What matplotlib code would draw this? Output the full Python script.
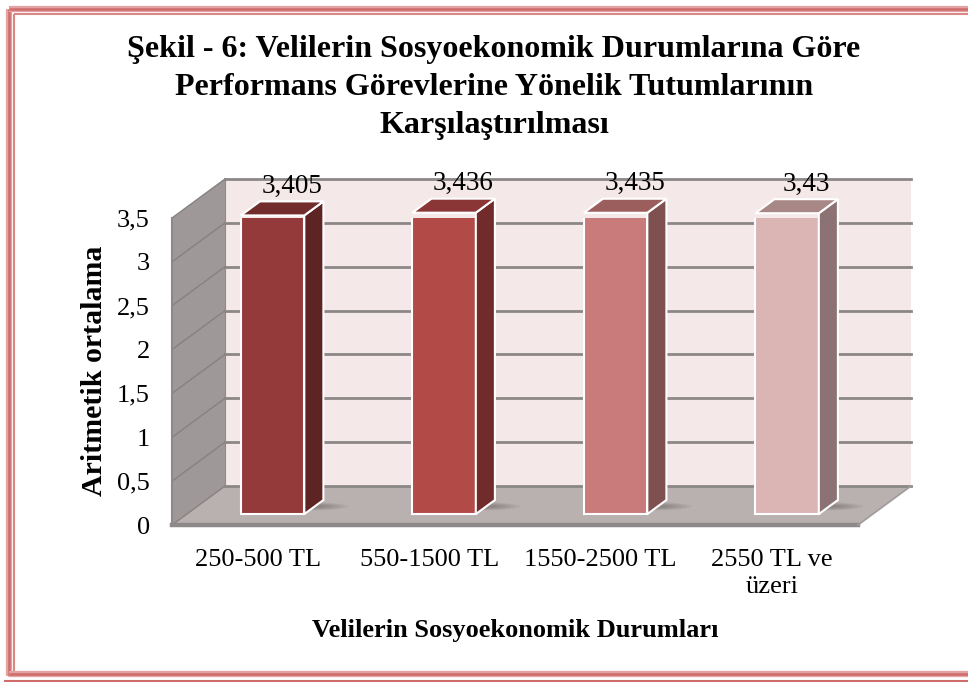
import matplotlib
matplotlib.use('Agg')
import matplotlib.pyplot as plt
from matplotlib.patches import Polygon, Ellipse
from matplotlib.lines import Line2D

# ---- data ----
categories = ['250-500 TL', '550-1500 TL', '1550-2500 TL', '2550 TL ve\nüzeri']
values = [3.405, 3.436, 3.435, 3.43]
value_labels = ['3,405', '3,436', '3,435', '3,43']
yticks = [0, 0.5, 1, 1.5, 2, 2.5, 3, 3.5]
ytick_labels = ['0', '0,5', '1', '1,5', '2', '2,5', '3', '3,5']
title = ('Şekil - 6: Velilerin Sosyoekonomik Durumlarına Göre\n'
         'Performans Görevlerine Yönelik Tutumlarının\nKarşılaştırılması')
xlabel = 'Velilerin Sosyoekonomik Durumları'
ylabel = 'Aritmetik ortalama'

front_colors = ['#943a3a', '#b24a47', '#c97b7b', '#dbb4b4']
side_colors = ['#5e2424', '#712b2b', '#7e5050', '#8c7272']
top_colors = ['#732c2c', '#8a3636', '#9b5e5d', '#a88787']

plt.rcParams['font.family'] = ['Liberation Serif', 'DejaVu Serif']

W, H = 968, 682
fig = plt.figure(figsize=(W / 100, H / 100), dpi=100)
fig.patch.set_facecolor('white')

ax = fig.add_axes([172 / W, (H - 525) / H, 686 / W, 307 / H])
ax.set_facecolor('none')
x0, x1 = -0.5, len(categories) - 0.5
ymax = 3.5
ax.set_xlim(x0, x1)
ax.set_ylim(0, ymax)
for s in ax.spines.values():
    s.set_visible(False)

DX = 53 / (686 / 4)
DY = 39 / (307 / 3.5)

# walls & floor
ax.add_patch(Polygon([(x0 + DX, DY), (x1 + DX, DY), (x1 + DX, ymax + DY), (x0 + DX, ymax + DY)],
                     closed=True, fc='#f4e8e8', ec='none', clip_on=False, zorder=0))
ax.add_patch(Polygon([(x0, 0), (x0 + DX, DY), (x0 + DX, ymax + DY), (x0, ymax)],
                     closed=True, fc='#9e9898', ec='none', clip_on=False, zorder=0))
ax.add_patch(Polygon([(x0, 0), (x1, 0), (x1 + DX, DY), (x0 + DX, DY)],
                     closed=True, fc='#b9b0b0', ec='none', clip_on=False, zorder=0))

# grid on back wall and side wall
for v in yticks:
    ax.add_line(Line2D([x0 + DX, x1 + DX], [v + DY, v + DY], color='#8c8787', lw=2.0,
                       clip_on=False, zorder=1))
    ax.add_line(Line2D([x0, x0 + DX], [v, v + DY], color='#878181', lw=1.0,
                       clip_on=False, zorder=1))
ax.add_line(Line2D([x0 + DX, x0 + DX], [DY, ymax + DY], color='#8f8a8a', lw=0.8,
                   clip_on=False, zorder=1))
# floor edges
ax.add_line(Line2D([x0, x1], [0, 0], color='#8e8989', lw=3.2, clip_on=False, zorder=1))
ax.add_line(Line2D([x1, x1 + DX], [0, DY], color='#a19a9a', lw=1.2, clip_on=False, zorder=1))
ax.add_line(Line2D([x0, x0], [0, ymax], color='#8e8989', lw=1.5, clip_on=False, zorder=1))

# bars
f0, f1 = 0.28, 0.64
bw = 0.37
ddx, ddy = (f1 - f0) * DX, (f1 - f0) * DY
for i, v in enumerate(values):
    xc = i + f0 * DX
    yb = f0 * DY
    # soft shadow on the floor
    for k in range(6):
        ax.add_patch(Ellipse((xc + bw * 0.45, yb + ddy * 0.55), bw * (1.5 - 0.15 * k),
                             0.10 - 0.012 * k, fc='#4a4040', ec='none', alpha=0.07,
                             clip_on=False, zorder=2))
    ax.bar(xc, v, width=bw, bottom=yb, color=front_colors[i], edgecolor='white',
           linewidth=1.5, zorder=5)
    r = xc + bw / 2
    l = xc - bw / 2
    ax.add_patch(Polygon([(r, yb), (r + ddx, yb + ddy), (r + ddx, yb + v + ddy), (r, yb + v)],
                         closed=True, fc=side_colors[i], ec='white', lw=1.5, clip_on=False,
                         zorder=5))
    ax.add_patch(Polygon([(l, yb + v), (r, yb + v), (r + ddx, yb + v + ddy), (l + ddx, yb + v + ddy)],
                         closed=True, fc=top_colors[i], ec='white', lw=1.5, clip_on=False,
                         zorder=5))
    ax.text(i + f1 * DX, v + f1 * DY + 0.10, value_labels[i], ha='center', va='baseline',
            fontsize=19.5, color='black', zorder=6)

ax.set_yticks(yticks, ytick_labels, fontsize=19)
ax.set_xticks(range(len(categories)), categories, fontsize=19)
ax.tick_params(axis='y', length=0, pad=16)
ax.tick_params(axis='x', length=0, pad=17)
for t in ax.get_xticklabels():
    t.set_linespacing(1.3)

fig.text(95 / W, 1 - 371 / H, ylabel, rotation=90, ha='center', va='center',
         fontsize=21.5, fontweight='bold')
fig.text(515 / W, 1 - 630 / H, xlabel, ha='center', va='center',
         fontsize=19, fontweight='bold')
fig.text(494 / W, 1 - 35 / H, title, ha='center', va='top', fontsize=23,
         fontweight='bold', linespacing=1.4)

# decorative border (left, top, bottom)
def fl(xs, ys, c, lw):
    fig.add_artist(Line2D([x / W for x in xs], [1 - y / H for y in ys], color=c, lw=lw,
                          transform=fig.transFigure, solid_capstyle='butt'))

fl([8.5, 8.5], [8.5, 676], '#e2a3a2', 4.5)
fl([8.5, 8.5], [8.5, 676], '#cf6c6a', 1.8)
fl([13.5, 13.5], [13.5, 671], '#d98886', 1.5)
fl([8.5, W], [8.5, 8.5], '#e2a3a2', 4.5)
fl([8.5, W], [8.5, 8.5], '#cf6c6a', 1.8)
fl([13.5, W], [13.5, 13.5], '#d98886', 1.5)
fl([8.5, W], [674, 674], '#e2a3a2', 4.5)
fl([8.5, W], [674, 674], '#cf6c6a', 1.8)
fl([4, W], [680.5, 680.5], '#cf6c6a', 1.5)

fig.savefig('out.png', dpi=100)
